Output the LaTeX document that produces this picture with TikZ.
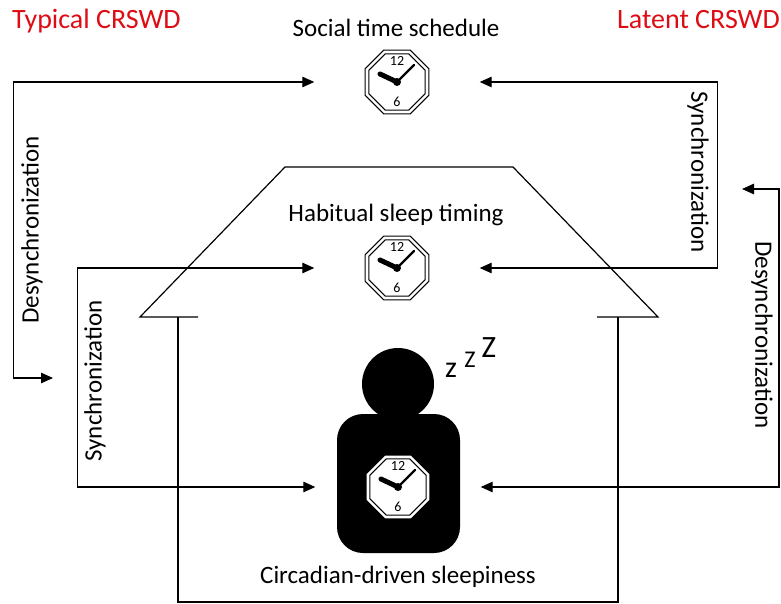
\documentclass[tikz,border=0pt]{standalone}
\usepackage{fontspec}
\setmainfont{Carlito}
\usetikzlibrary{arrows.meta}
\definecolor{redlab}{RGB}{222,12,20}
\tikzset{
  lab/.style={font=\fontsize{25}{30}\selectfont, inner sep=0pt},
  redtitle/.style={font=\fontsize{28}{32}\selectfont, inner sep=0pt, text=redlab},
  conn/.style={{Triangle[length=12pt,width=10.5pt]}-{Triangle[length=12pt,width=10.5pt]}, line width=1.2pt},
  wall/.style={line width=1.2pt},
  clockarea/.style={minimum width=165pt, minimum height=10pt, inner sep=0pt},
  num/.style={font=\fontsize{14}{14}\selectfont, inner sep=0pt},
  zz/.style={inner sep=0pt, anchor=base},
  clock/.pic={
    \draw[fill=white, line width=1.1pt] (22.5:34.5) -- (67.5:34.5) -- (112.5:34.5) -- (157.5:34.5) -- (202.5:34.5) -- (247.5:34.5) -- (292.5:34.5) -- (337.5:34.5) -- cycle;
    \draw[line width=1.1pt] (22.5:30.5) -- (67.5:30.5) -- (112.5:30.5) -- (157.5:30.5) -- (202.5:30.5) -- (247.5:30.5) -- (292.5:30.5) -- (337.5:30.5) -- cycle;
    \node[num] (-twelve) at (0,-21) {12};
    \node[num] (-six) at (0,20) {6};
    \draw[line width=2.4pt, line cap=round] (0,0) -- (17,-17);
    \draw[line width=5pt, line cap=round] (0,0) -- (-17,-8);
    \fill (0,0) circle (4);
  }
}
\begin{document}
\begin{tikzpicture}[x=1pt,y=-1pt]
\useasboundingbox (0,0) rectangle (781,604);

% titles
\node[redtitle, anchor=base west] (typ) at (12,29) {Typical CRSWD};
\node[redtitle, anchor=base east] (lat) at (780,29) {Latent CRSWD};
\node[lab, anchor=base] (soc) at (396,37) {Social time schedule};
\node[lab, anchor=base] (hab) at (396,221) {Habitual sleep timing};
\node[lab, anchor=base] (circ) at (398,583) {Circadian-driven sleepiness};

% house
\draw[wall] (198,317) -- (140,317) -- (285,167) -- (513,167) -- (658,317) -- (597,317);
\draw[wall] (178,317) -- (178,602) -- (618,602) -- (618,317);

% person
\fill (398,384) circle (36);
\fill[rounded corners=26pt] (337,414) rectangle (460,553);
\node[zz, font=\fontsize{30}{30}\selectfont] (z1) at (451,377) {z};
\node[zz, font=\fontsize{24}{24}\selectfont] (z2) at (470,367) {Z};
\node[zz, font=\fontsize{31}{31}\selectfont] (z3) at (489,357) {Z};

% clocks
\node[clockarea] (c1) at (397,82) {};
\node[clockarea] (c2) at (397,268) {};
\node[clockarea] (c3) at (398,487) {};
\pic (k1) at (c1) {clock};
\pic (k2) at (c2) {clock};
\pic (k3) at (c3) {clock};

% connectors
\coordinate (dl) at (53,378);
\coordinate (dr) at (742,189);
\draw[conn] (c1.west) -- ++(-301,0) |- (dl);
\draw[conn] (c2.west) -- ++(-237,0) |- (c3.west);
\draw[conn] (c1.east) -- ++(238,0) |- (c2.east);
\draw[conn] (dr) -- ++(37,0) |- (c3.east);

% rotated labels
\node[lab, rotate=90] (desL) at (32,230) {Desynchronization};
\node[lab, rotate=90] (synL) at (95,381) {Synchronization};
\node[lab, rotate=-90] (synR) at (698,172) {Synchronization};
\node[lab, rotate=-90] (desR) at (762,335) {Desynchronization};
\end{tikzpicture}
\end{document}
